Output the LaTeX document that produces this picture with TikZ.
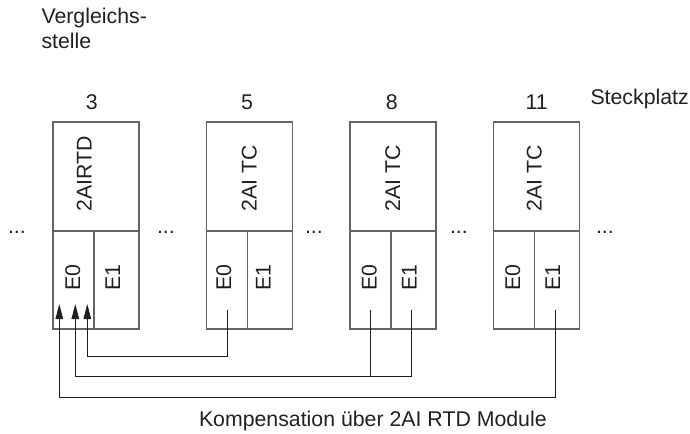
\documentclass[tikz,border=0pt]{standalone}
\usepackage{fontspec}
\setmainfont{Liberation Sans}
\usetikzlibrary{arrows.meta}
\definecolor{txt}{RGB}{35,31,32}
\definecolor{boxc}{RGB}{100,100,100}
\definecolor{wirec}{RGB}{30,30,30}
\begin{document}
\begin{tikzpicture}[x=1bp,y=-1bp,
  lbl/.style={inner sep=0pt, outer sep=0pt, text=txt, font=\fontsize{21.3bp}{25bp}\selectfont},
  cell/.style={draw=boxc, line width=1.1bp, inner sep=0pt, outer sep=0pt, anchor=north west},
  topcell/.style={cell, minimum width=86bp, minimum height=109bp},
  e0cell/.style={cell, minimum width=41bp, minimum height=98bp},
  e1cell/.style={cell, minimum width=45bp, minimum height=98bp},
  vlbl/.style={lbl, rotate=90, anchor=base west},
  wire/.style={draw=wirec, line width=1bp},
  arr/.style={wire, -{Triangle[length=15bp,width=7.5bp]}}]
\useasboundingbox (0,0) rectangle (690,434);

% header texts
\node[lbl, anchor=base west] (vgl1) at (41.5,23.3) {Vergleichs-};
\node[lbl, anchor=base west] (vgl2) at (41.5,48.3) {stelle};
\node[lbl, anchor=base west] (steck) at (590.5,105) {Steckplatz};

% slot numbers
\node[lbl, anchor=base] (n3) at (91.7,109.5) {3};
\node[lbl, anchor=base] (n5) at (247,109.5) {5};
\node[lbl, anchor=base] (n8) at (391.7,109.5) {8};
\node[lbl, anchor=base] (n11) at (536.7,109.5) {11};

% module 3
\node[topcell] (m3) at (53,122) {};
\node[e0cell] (m3e0) at (53,231) {};
\node[e1cell] (m3e1) at (94,231) {};
\node[vlbl] (m3t) at (91.7,211.7) {2AIRTD};
\node[vlbl] (m3l0) at (80.2,290.7) {E0};
\node[vlbl] (m3l1) at (120,290.7) {E1};

% module 5
\node[topcell] (m5) at (206.7,122) {};
\node[e0cell] (m5e0) at (206.7,231) {};
\node[e1cell] (m5e1) at (247.7,231) {};
\node[vlbl] (m5t) at (256.5,211.7) {2AI TC};
\node[vlbl] (m5l0) at (231,290.7) {E0};
\node[vlbl] (m5l1) at (270.7,290.7) {E1};

% module 8
\node[topcell] (m8) at (350,122) {};
\node[e0cell] (m8e0) at (350,231) {};
\node[e1cell] (m8e1) at (391,231) {};
\node[vlbl] (m8t) at (400,211.7) {2AI TC};
\node[vlbl] (m8l0) at (376.7,290.7) {E0};
\node[vlbl] (m8l1) at (416.7,290.7) {E1};

% module 11
\node[topcell] (m11) at (493.3,122) {};
\node[e0cell] (m11e0) at (493.3,231) {};
\node[e1cell] (m11e1) at (534.3,231) {};
\node[vlbl] (m11t) at (541.7,211.7) {2AI TC};
\node[vlbl] (m11l0) at (520,290.7) {E0};
\node[vlbl] (m11l1) at (560,290.7) {E1};

% dots
\node[lbl, anchor=base west] (d1) at (8,234) {...};
\node[lbl, anchor=base west] (d2) at (157,234) {...};
\node[lbl, anchor=base west] (d3) at (305,234) {...};
\node[lbl, anchor=base west] (d4) at (450,234) {...};
\node[lbl, anchor=base west] (d5) at (596,234) {...};

% connector points
\coordinate (a5) at (227.3,310);
\coordinate (c5) at (227.3,356);
\coordinate (c3a) at (87.3,356);
\coordinate (t1) at (87.3,304);

\coordinate (a8e0) at (370.7,310);
\coordinate (c8e0) at (370.7,376.7);
\coordinate (a8e1) at (411,310);
\coordinate (c8e1) at (411,376.7);
\coordinate (c3b) at (75.3,376.7);
\coordinate (t2) at (75.3,304);

\coordinate (a11) at (555,310);
\coordinate (c11) at (555,397.3);
\coordinate (c3c) at (59.3,397.3);
\coordinate (t3) at (59.3,304);

\draw[arr] (a5) -- (c5) -- (c3a) -- (t1);
\draw[wire] (a8e0) -- (c8e0);
\draw[arr] (a8e1) -- (c8e1) -- (c3b) -- (t2);
\draw[arr] (a11) -- (c11) -- (c3c) -- (t3);

% bottom caption
\node[lbl, anchor=base west] (komp) at (199,426.5) {Kompensation über 2AI RTD Module};
\end{tikzpicture}
\end{document}
